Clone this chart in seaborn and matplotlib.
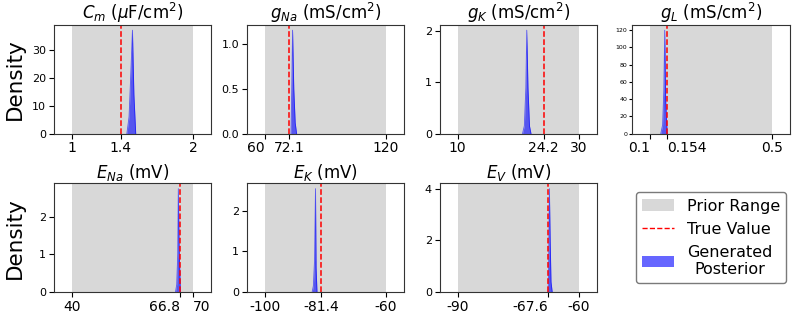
import numpy as np
import pandas as pd
import matplotlib
matplotlib.use("Agg")
import matplotlib.pyplot as plt
import seaborn as sns
from matplotlib.patches import Patch
from matplotlib.lines import Line2D
from matplotlib.ticker import MaxNLocator

# parameter titles, prior bounds and true values
titles = [r"$C_m$ ($\mu$F/cm$^2$)", r"$g_{Na}$ (mS/cm$^2$)", r"$g_K$ (mS/cm$^2$)", r"$g_L$ (mS/cm$^2$)",
          r"$E_{Na}$ (mV)", r"$E_K$ (mV)", r"$E_V$ (mV)"]
prior_low = [1, 60, 10, 0.1, 40, -100, -90]
prior_high = [2, 120, 30, 0.5, 70, -60, -60]
true_vals = [1.4, 72.1, 24.2, 0.154, 66.8, -81.4, -67.6]
tick_labels = [["1", "1.4", "2"], ["60", "72.1", "120"], ["10", "24.2", "30"], ["0.1", "0.154", "0.5"],
               ["40", "66.8", "70"], ["-100", "-81.4", "-60"], ["-90", "-67.6", "-60"]]

# posterior density curves
post_x = [
    [1.452, 1.470, 1.485, 1.498, 1.510, 1.525],
    [72.9, 73.3, 73.7, 74.3, 75.0, 75.7],
    [20.7, 21.0, 21.25, 21.4, 21.6, 21.85, 22.1],
    [0.134, 0.140, 0.144, 0.147, 0.150, 0.155],
    [65.6, 65.9, 66.15, 66.3, 66.5, 66.8],
    [-84.4, -84.0, -83.6, -83.3, -83.1, -82.8],
    [-67.6, -67.45, -67.3, -67.1, -66.9, -66.6],
]
post_y = [
    [0, 6, 22, 37, 14, 0],
    [0, 0.5, 1.15, 0.5, 0.12, 0],
    [0, 0.15, 0.9, 2.02, 0.9, 0.15, 0],
    [0, 10, 50, 120, 40, 0],
    [0, 0.2, 1.0, 2.75, 1.2, 0],
    [0, 0.15, 0.8, 2.55, 0.6, 0],
    [0, 1.5, 4.0, 2.0, 0.4, 0],
]

# horizontal alignment of the x tick labels, so close ones don't collide
tick_ha = [["center", "center", "center"], ["right", "center", "center"], ["center", "center", "center"],
           ["right", "left", "center"], ["center", "right", "left"], ["center", "center", "center"],
           ["center", "right", "center"]]

fig, axes = plt.subplots(2, 4, figsize=(7.93, 3.13), dpi=100)
fig.subplots_adjust(left=0.068, right=0.996, top=0.92, bottom=0.067, wspace=0.224, hspace=0.46)
axes = axes.flatten()

for i in range(7):
    ax = axes[i]
    lo, hi = prior_low[i], prior_high[i]
    ax.axvspan(lo, hi, color="gray", alpha=0.3, lw=0)
    df = pd.DataFrame({"x": post_x[i], "y": post_y[i]})
    ax.fill_between(df["x"], df["y"], color="blue", alpha=0.6, lw=0)
    sns.lineplot(data=df, x="x", y="y", ax=ax, color="blue", alpha=0.6, lw=0.6)
    ax.axvline(true_vals[i], color="red", ls="--", lw=1.1)
    pad = 0.15 * (hi - lo)
    ax.set_xlim(lo - pad, hi + pad)
    ax.set_ylim(0, None)
    ax.set_xticks([lo, true_vals[i], hi])
    ax.set_xticklabels(tick_labels[i], fontsize=10)
    for lab, ha in zip(ax.get_xticklabels(), tick_ha[i]):
        lab.set_ha(ha)
    ax.tick_params(axis="x", pad=2)
    if i == 3:
        ax.yaxis.set_major_locator(MaxNLocator(nbins=7, steps=[1, 2, 5, 10]))
        ax.tick_params(axis="y", labelsize=4.5, length=2, pad=1.5)
    else:
        ax.yaxis.set_major_locator(MaxNLocator(nbins=4, steps=[1, 2, 5, 10]))
        ax.tick_params(axis="y", labelsize=8, pad=2)
    for s in ax.spines.values():
        s.set_color("0.2")
    ax.set_title(titles[i], fontsize=12, pad=3)
    ax.set_xlabel("")
    ax.set_ylabel("Density" if i in (0, 4) else "", fontsize=15.5)
    if i in (0, 4):
        ax.yaxis.set_label_coords(-0.185, 0.5)

axes[7].axis("off")
handles = [Patch(color="gray", alpha=0.3, lw=0),
           Line2D([0], [0], color="red", ls="--", lw=1),
           Patch(color="blue", alpha=0.6, lw=0)]
leg = axes[7].legend(handles, ["Prior Range", "True Value", "Generated\nPosterior"], loc="center", fontsize=11.5)
leg.get_frame().set_edgecolor("0.35")
for t in leg.get_texts():
    t.set_multialignment("center")

fig.savefig("out.png", dpi=100)
